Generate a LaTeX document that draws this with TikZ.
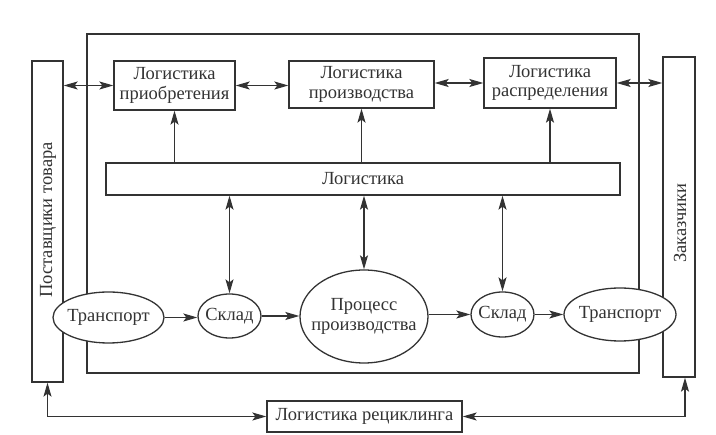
\documentclass[tikz,border=0pt]{standalone}
\usepackage{fontspec}
\setmainfont{Liberation Serif}
\usetikzlibrary{arrows.meta,shapes.geometric,calc}
\definecolor{ink}{HTML}{333333}
\tikzset{
  mytip/.tip={Stealth[length=14pt,width=8pt,inset=3pt]},
}
\begin{document}
\begin{tikzpicture}[x=1pt,y=-1pt,
  txt/.style={text=ink, inner sep=0pt, align=center, font=\fontsize{18.5}{19.5}\selectfont},
  box/.style={txt, draw=ink, line width=1.3pt, fill=white},
  oval/.style={ellipse, draw=ink, line width=1.3pt, fill=white, inner sep=0pt},
  conn/.style={draw=ink, line width=1.3pt, -mytip},
  dconn/.style={draw=ink, line width=1.3pt, mytip-mytip},
  frame/.style={draw=ink, line width=1.3pt}
]
\useasboundingbox (0,0) rectangle (716,435);
\fill[white] (0,0) rectangle (716,435);
% outer frame
\coordinate (fa) at (87,34);
\coordinate (fb) at (639,373);
\draw[frame] (fa) rectangle (fb);
% side boxes
\node[box, minimum width=31pt, minimum height=321pt] (sup) at (47.5,221.5) {};
\node[txt, rotate=90] (supt) at (48,220) {Поставщики товара};
\node[box, minimum width=32pt, minimum height=320pt] (cust) at (679,217) {};
\node[txt, rotate=90] (custt) at (680,223) {Заказчики};
% top boxes
\node[box, minimum width=121pt, minimum height=49pt] (lp) at (174.5,85.5) {Логистика\\приобретения};
\node[box, minimum width=145pt, minimum height=47pt] (lpr) at (361.5,84.5) {Логистика\\производства};
\node[box, minimum width=132pt, minimum height=50pt] (lr) at (550,83) {Логистика\\распределения};
% logistics bar
\node[box, minimum width=514pt, minimum height=32pt] (log) at (363,179) {Логистика};
% recycling
\node[box, minimum width=195pt, minimum height=31pt] (rec) at (364.5,416.5) {Логистика рециклинга};
% ovals
\node[oval, minimum width=111pt, minimum height=51pt] (t1) at (108.5,317.5) {};
\node[txt] (t1t) at (t1) {Транспорт};
\node[oval, minimum width=63pt, minimum height=44pt] (s1) at (229.5,316) {};
\node[txt] (s1t) at (s1) {Склад};
\node[oval, minimum width=128pt, minimum height=93pt] (pp) at (364,316.5) {};
\node[txt] (ppt) at (pp) {Процесс\\производства};
\node[oval, minimum width=63pt, minimum height=45pt] (s2) at (502.5,314.5) {};
\node[txt] (s2t) at (s2) {Склад};
\node[oval, minimum width=112pt, minimum height=53pt] (t2) at (620,314.5) {};
\node[txt] (t2t) at (t2) {Транспорт};
% top horizontal arrows
\draw[dconn] (sup.east |- lp.west) -- (lp.west);
\draw[dconn] (lp.east) -- (lp.east -| lpr.west);
\draw[dconn] (lpr.east |- lr.west) -- (lr.west);
\draw[dconn] (lr.east) -- (lr.east -| cust.west);
% up arrows
\draw[conn] (log.north -| lp.south) -- (lp.south);
\draw[conn] (log.north -| lpr.south) -- (lpr.south);
\draw[conn] (log.north -| lr.south) -- (lr.south);
% vertical double arrows
\draw[dconn] (s1.north |- log.south) -- (s1.north);
\draw[dconn] (pp.north |- log.south) -- (pp.north);
\draw[dconn] (s2.north |- log.south) -- (s2.north);
% flow arrows
\draw[conn] (t1.east) -- (t1.east -| s1.west);
\draw[conn] (s1.east) -- (s1.east -| pp.west);
\draw[conn] (pp.east |- s2.west) -- (s2.west);
\draw[conn] (s2.east) -- (s2.east -| t2.west);
% recycling connections
\draw[dconn] (sup.south) -- (sup.south |- rec.west) -- (rec.west);
\coordinate (cs) at ([xshift=6pt]cust.south);
\draw[dconn] (rec.east) -- (rec.east -| cs) -- (cs);
\end{tikzpicture}
\end{document}
